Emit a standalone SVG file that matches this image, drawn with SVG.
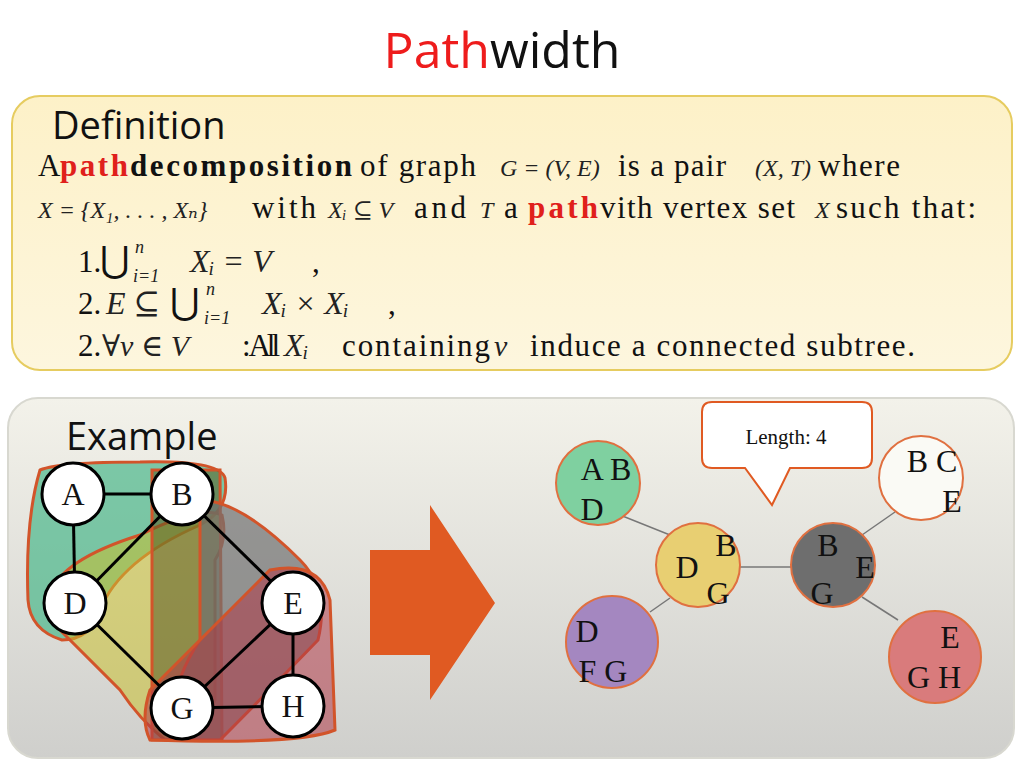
<svg xmlns="http://www.w3.org/2000/svg" width="1024" height="768" viewBox="0 0 1024 768">
<defs>
<linearGradient id="gy" x1="0" y1="0" x2="0" y2="1"><stop offset="0" stop-color="#fdf1c8"/><stop offset="1" stop-color="#fdf6de"/></linearGradient>
<linearGradient id="gg" x1="0" y1="0" x2="0" y2="1"><stop offset="0" stop-color="#f3f2ea"/><stop offset="1" stop-color="#cfcfcc"/></linearGradient>
</defs>
<style>
.s{font-family:"Liberation Serif","DejaVu Serif",serif;font-size:31px;fill:#111}
.m{font-family:"Liberation Serif","DejaVu Serif",serif;font-style:italic;fill:#222}
.r{fill:#e0201b;font-weight:bold}
.h{font-family:"Open Sans","Noto Sans",sans-serif;font-size:38px;fill:#111}
.n{fill:#fff;stroke:#000;stroke-width:3}
.nl{font-family:"Liberation Serif","DejaVu Serif",serif;font-size:32px;text-anchor:middle;fill:#111}
.b{stroke:#d2542a;stroke-width:3}
.c{stroke:#e07040;stroke-width:2}
</style>
<rect width="1024" height="768" fill="#fff"/>
<text x="502" y="68" text-anchor="middle" font-family="Open Sans,Noto Sans,sans-serif" font-size="50" fill="#111"><tspan fill="#ee1c1c">Path</tspan>width</text>

<rect x="12" y="96" width="1000" height="274" rx="28" fill="url(#gy)" stroke="#e6cc60" stroke-width="2"/>
<text class="h" x="52" y="139">Definition</text>
<text class="s" y="176" lengthAdjust="spacingAndGlyphs"><tspan x="38">A</tspan><tspan x="60" class="r" textLength="68">path</tspan><tspan x="130" font-weight="bold" textLength="222">decomposition</tspan><tspan x="360" textLength="116">of graph</tspan><tspan x="500" class="m" font-size="24">G = (V, E)</tspan><tspan x="618" textLength="108">is a pair</tspan><tspan x="755" class="m" font-size="24">(X, T)</tspan><tspan x="818" textLength="82">where</tspan></text>
<text class="s" y="218"><tspan x="38" class="m" font-size="24">X = {X₁, . . . , Xₙ}</tspan><tspan x="252" textLength="64">with</tspan><tspan x="328" class="m" font-size="24">Xᵢ ⊆ V</tspan><tspan x="414" textLength="52">and</tspan><tspan x="480" class="m" font-size="24">T</tspan><tspan x="504">a</tspan><tspan x="528" class="r" textLength="70">path</tspan><tspan x="600" textLength="195">vith vertex set</tspan><tspan x="815" class="m" font-size="24">X</tspan><tspan x="836" textLength="140">such that:</tspan></text>
<text class="s" y="272"><tspan x="78">1.</tspan><tspan x="100" font-size="36">⋃</tspan><tspan x="190" class="m" font-size="32">Xᵢ = V</tspan><tspan x="312">,</tspan></text>
<text class="m" font-size="18"><tspan x="135" y="253">n</tspan><tspan x="133" y="282">i=1</tspan></text>
<text class="s" y="314"><tspan x="78">2.</tspan><tspan x="106" class="m" font-size="32">E ⊆</tspan><tspan x="170" font-size="36">⋃</tspan><tspan x="262" class="m" font-size="32">Xᵢ × Xᵢ</tspan><tspan x="388">,</tspan></text>
<text class="m" font-size="18"><tspan x="206" y="295">n</tspan><tspan x="204" y="324">i=1</tspan></text>
<text class="s" y="356"><tspan x="78">2.</tspan></text>
<text class="s" y="356"><tspan x="102" class="m" font-size="30">∀v ∈ V</tspan><tspan x="242" textLength="38">: All</tspan><tspan x="284" class="m" font-size="32">Xᵢ</tspan><tspan x="342" textLength="148">containing</tspan><tspan x="494" class="m" font-size="30">v</tspan><tspan x="530" textLength="385">induce a connected subtree.</tspan></text>

<rect x="8" y="398" width="1006" height="360" rx="30" fill="url(#gg)" stroke="#d8d8d0" stroke-width="2"/>
<text class="h" x="66" y="450">Example</text>

<g id="bags">
<path class="b" d="M40,470 Q60,462 140,462 Q220,460 225,478 Q230,510 200,525 Q120,560 100,610 Q90,640 62,640 Q30,630 28,600 Q25,520 40,470Z" fill="#3fb384" fill-opacity="0.65"/>
<path class="b" d="M50,595 Q60,560 140,535 Q200,505 222,515 Q228,540 215,560 L215,700 Q200,740 165,740 Q140,720 120,690 Q90,660 60,630Z" fill="#c8c030" fill-opacity="0.55"/>
<path class="b" d="M152,470 L220,470 L222,740 L152,740Z" fill="#5a5a20" fill-opacity="0.55"/>
<path class="b" d="M200,500 Q240,500 300,560 Q330,590 318,640 Q260,700 220,740 L185,740 Q160,700 200,640 Z" fill="#707070" fill-opacity="0.7"/>
<path class="b" d="M150,690 Q200,640 270,570 Q320,560 330,600 L335,730 Q300,745 150,740 Q140,720 150,690Z" fill="#b03a48" fill-opacity="0.55"/>
</g>
<g id="edges" stroke="#000" stroke-width="3">
<line x1="73" y1="494" x2="182" y2="494"/><line x1="73" y1="494" x2="75" y2="603"/>
<line x1="182" y1="494" x2="75" y2="603"/><line x1="182" y1="494" x2="293" y2="603"/>
<line x1="75" y1="603" x2="182" y2="708"/><line x1="293" y1="603" x2="182" y2="708"/>
<line x1="293" y1="603" x2="293" y2="706"/><line x1="182" y1="708" x2="293" y2="706"/>
</g>
<g id="nA"><circle class="n" cx="73" cy="494" r="31"/><text class="nl" x="73" y="505">A</text></g>
<g id="nB"><circle class="n" cx="182" cy="494" r="31"/><text class="nl" x="182" y="505">B</text></g>
<g id="nD"><circle class="n" cx="75" cy="603" r="31"/><text class="nl" x="75" y="614">D</text></g>
<g id="nE"><circle class="n" cx="293" cy="603" r="31"/><text class="nl" x="293" y="614">E</text></g>
<g id="nG"><circle class="n" cx="182" cy="708" r="31"/><text class="nl" x="182" y="719">G</text></g>
<g id="nH"><circle class="n" cx="293" cy="706" r="31"/><text class="nl" x="293" y="717">H</text></g>

<path d="M370,550 L430,550 L430,505 L495,603 L430,700 L430,655 L370,655Z" fill="#e05a22"/>

<g id="tree-edges" stroke="#777" stroke-width="1.5">
<line x1="620" y1="515" x2="670" y2="535"/><line x1="740" y1="567" x2="792" y2="567"/>
<line x1="650" y1="612" x2="670" y2="598"/><line x1="862" y1="535" x2="895" y2="512"/>
<line x1="862" y1="597" x2="898" y2="620"/>
</g>
<g id="tABD"><circle class="c" cx="598" cy="483" r="42" fill="#7fd0a0"/><text class="nl" x="606" y="480">A B</text><text class="nl" x="592" y="520">D</text></g>
<g id="tDBG"><circle class="c" cx="698" cy="565" r="42" fill="#e8cf72"/><text class="nl" x="726" y="556">B</text><text class="nl" x="687" y="578">D</text><text class="nl" x="718" y="604">G</text></g>
<g id="tBEG"><circle class="c" cx="833" cy="565" r="42" fill="#6e6e6e"/><text class="nl" x="828" y="556">B</text><text class="nl" x="865" y="578">E</text><text class="nl" x="822" y="604">G</text></g>
<g id="tBCE"><circle class="c" cx="921" cy="478" r="42" fill="#fafaf5"/><text class="nl" x="932" y="472">B C</text><text class="nl" x="952" y="512">E</text></g>
<g id="tDFG"><circle class="c" cx="612" cy="642" r="46" fill="#a487c0"/><text class="nl" x="587" y="642">D</text><text class="nl" x="603" y="682">F G</text></g>
<g id="tEGH"><circle class="c" cx="935" cy="657" r="46" fill="#d97b7c"/><text class="nl" x="950" y="648">E</text><text class="nl" x="934" y="688">G H</text></g>

<g id="callout"><path d="M712,402 L862,402 Q872,402 872,412 L872,458 Q872,468 862,468 L790,468 L772,505 L745,468 L712,468 Q702,468 702,458 L702,412 Q702,402 712,402Z" fill="#fff" stroke="#e05a22" stroke-width="2"/>
<text x="786" y="444" text-anchor="middle" font-family="Liberation Serif,DejaVu Serif,serif" font-size="21" fill="#111">Length: 4</text></g>
</svg>
